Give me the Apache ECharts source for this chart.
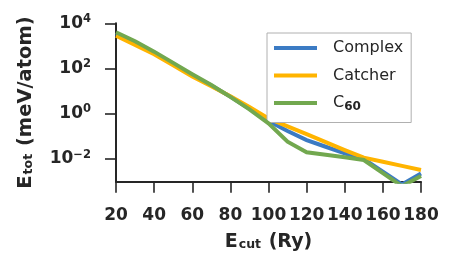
<!DOCTYPE html>
<html>
<head>
<meta charset="utf-8">
<script src="https://cdn.jsdelivr.net/npm/echarts@6/dist/echarts.min.js"></script>
<style>html,body{margin:0;padding:0;background:#fff}#c{width:452px;height:272px}</style>
</head>
<body>
<div id="c"></div>
<script>
// Cutoff energies (Ry)
var ecut = [20, 30, 40, 50, 60, 70, 80, 90, 100, 110, 120, 130, 140, 150, 160, 170, 180];
// Total-energy error (meV/atom)
var complexVals = [3500, 1380, 500, 158, 50, 17.8, 5.75, 1.66, 0.48, 0.174, 0.069, 0.035, 0.018, 0.010, 0.0028, 0.00076, 0.0023];
var catcherVals = [2800, 1100, 430, 138, 45, 16.6, 6.0, 2.0, 0.63, 0.28, 0.126, 0.056, 0.025, 0.0115, 0.0076, 0.0050, 0.0033];
var c60Vals     = [4000, 1600, 560, 178, 56, 18.6, 5.6, 1.58, 0.38, 0.059, 0.020, 0.0155, 0.012, 0.0091, 0.0024, 0.00063, 0.0018];
// Axis ticks
var xTicks = [20, 40, 60, 80, 100, 120, 140, 160, 180];
var yTicks = [0.01, 1, 100, 10000];
var seriesNames = ['Complex', 'Catcher', 'C60'];
var colors = ['#3B7BC4', '#FFB400', '#72A84F'];

var txt = '#262626';
var font = 'DejaVu Sans';
function pairs(vals) { return ecut.map(function (e, i) { return [e, vals[i]]; }); }
function sup(v) {
  var e = Math.round(Math.log10(v));
  var s = (e < 0 ? '\u2212' : '') + Math.abs(e);
  return '{b|10}{p|' + s + '}';
}
var chart = echarts.init(document.getElementById('c'), null, {renderer: 'canvas'});
var data = [complexVals, catcherVals, c60Vals];
chart.setOption({
  animation: false,
  backgroundColor: '#fff',
  grid: {left: 116, right: 31, top: 23.3, bottom: 90.3, containLabel: false},
  legend: {
    orient: 'vertical', left: 267, top: 33,
    data: seriesNames,
    icon: 'rect', itemWidth: 43, itemHeight: 4, itemGap: 11.5,
    backgroundColor: '#fff', borderColor: '#b0b0b0', borderWidth: 1, borderRadius: 0,
    padding: [7, 8, 10, 7],
    formatter: function (n) { return n === 'C60' ? '{a|C}{s|60}' : '{a|' + n + '}'; },
    textStyle: {
      color: txt, fontFamily: font, fontSize: 16, lineHeight: 16, padding: [0, 0, 0, 11],
      rich: {
        a: {fontFamily: font, fontSize: 16, color: txt, lineHeight: 16},
        s: {fontFamily: font, fontSize: 12, fontWeight: 'bold', color: txt, padding: [7, 0, 0, 0]}
      }
    }
  },
  xAxis: {
    type: 'value', min: 20, max: 180, interval: 20,
    name: '{b|E}{s|cut}{b| (Ry)}', nameLocation: 'middle', nameGap: 50,
    nameTextStyle: {
      fontFamily: font, color: txt,
      rich: {
        b: {fontFamily: font, fontSize: 19, fontWeight: 'bold', color: txt, lineHeight: 20},
        s: {fontFamily: font, fontSize: 12.5, fontWeight: 'bold', color: txt, padding: [7, 1, 0, 1]}
      }
    },
    axisLine: {lineStyle: {color: txt, width: 2}},
    axisTick: {show: true, length: 11, lineStyle: {color: txt, width: 1.6}, customValues: xTicks},
    axisLabel: {customValues: xTicks, margin: 25, color: txt, fontFamily: font, fontSize: 17, fontWeight: 'bold', lineHeight: 17},
    splitLine: {show: false}
  },
  yAxis: {
    type: 'log', logBase: 10, min: 0.001, max: 10000,
    name: '{b|E}{s|tot}{b| (meV/atom)}', nameLocation: 'middle', nameGap: 80, nameRotate: 90,
    nameTextStyle: {
      fontFamily: font, color: txt,
      rich: {
        b: {fontFamily: font, fontSize: 19.5, fontWeight: 'bold', color: txt, lineHeight: 21},
        s: {fontFamily: font, fontSize: 12.5, fontWeight: 'bold', color: txt, padding: [7, 1, 0, 1]}
      }
    },
    axisLine: {show: true, lineStyle: {color: txt, width: 2}},
    axisTick: {show: true, length: 11, lineStyle: {color: txt, width: 1.6}, customValues: yTicks},
    axisLabel: {
      customValues: yTicks, margin: 25, formatter: sup,
      rich: {
        b: {fontFamily: font, fontSize: 17, fontWeight: 'bold', color: txt},
        p: {fontFamily: font, fontSize: 11.5, fontWeight: 'bold', color: txt, padding: [0, 0, 9, 0]}
      }
    },
    splitLine: {show: false}
  },
  series: seriesNames.map(function (n, i) {
    return {
      name: n, type: 'line', data: pairs(data[i]), showSymbol: false, symbol: 'none',
      clip: true, color: colors[i], lineStyle: {width: 4, color: colors[i], cap: 'butt', join: 'miter'}, z: 2 + i
    };
  })
});
</script>
</body>
</html>
